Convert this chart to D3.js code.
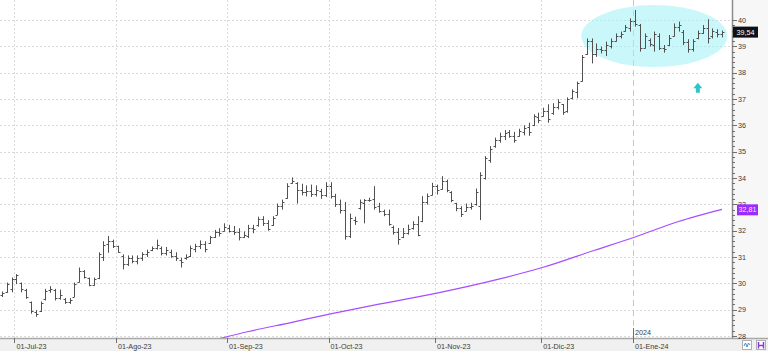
<!DOCTYPE html>
<html>
<head>
<meta charset="utf-8">
<script src="https://cdn.jsdelivr.net/npm/d3@7"></script>
<style>
html, body { margin: 0; padding: 0; background: #fff; }
svg { display: block; font-family: "Liberation Sans", Arial, sans-serif; }
</style>
</head>
<body>
<svg id="chart"></svg>
<script>
const WIDTH = 768;
const HEIGHT = 351;
const PLOT_RIGHT = 732;
const PLOT_BOTTOM = 338;

// trading calendar (Spanish market)
const FIRST_DAY = "2023-06-28";
const LAST_DAY = "2024-01-26";
const HOLIDAYS = ["2023-12-25", "2023-12-26", "2024-01-01"];
const MONTH_LABELS = ["01-Jul-23", "01-Ago-23", "01-Sep-23", "01-Oct-23", "01-Nov-23", "01-Dic-23", "01-Ene-24"];
const YEAR_LABEL = "2024";

const PRICE_TICKS = [28, 29, 30, 31, 32, 33, 34, 35, 36, 37, 38, 39, 40];

// daily OHLC
const opens = [
	29.55, 29.66, 29.80, 30.15, 30.00, 29.75, 29.30, 28.90, 28.95, 29.40,
	29.75, 29.75, 29.45, 29.40, 29.30, 29.50, 30.05, 30.45, 30.20, 29.95,
	30.20, 31.00, 31.50, 31.60, 31.40, 31.05, 30.75, 30.95, 30.85, 30.95,
	31.10, 31.25, 31.35, 31.35, 31.15, 31.20, 31.05, 30.90, 30.95, 31.05,
	31.30, 31.40, 31.50, 31.55, 31.75, 31.95, 32.00, 32.10, 32.00, 31.95,
	31.75, 31.80, 32.10, 32.20, 32.45, 32.30, 32.20, 32.60, 32.95, 33.25,
	33.80, 33.80, 33.55, 33.45, 33.50, 33.40, 33.50, 33.35, 33.70, 33.30,
	33.00, 32.80, 31.80, 32.40, 32.85, 33.05, 33.15, 33.20, 32.95, 32.75,
	32.65, 32.15, 31.95, 31.75, 31.90, 32.10, 32.25, 32.35, 33.10, 33.35,
	33.70, 33.60, 33.90, 33.45, 33.05, 32.85, 32.75, 32.90, 33.00, 32.95,
	34.00, 34.70, 35.20, 35.45, 35.60, 35.75, 35.60, 35.60, 35.75, 35.95,
	36.00, 36.30, 36.35, 36.55, 36.45, 36.70, 36.80, 36.55, 37.05, 37.25,
	37.70, 38.70, 39.20, 38.70, 38.90, 38.85, 39.00, 39.20, 39.40, 39.60,
	39.70, 39.95, 39.80, 38.95, 39.25, 39.05, 39.40, 38.95, 39.05, 39.40,
	39.75, 39.55, 39.15, 38.90, 39.30, 39.50, 39.70, 39.40, 39.55, 39.45
];
const highs = [
	29.69, 30.03, 30.22, 30.35, 30.03, 29.79, 29.31, 28.98, 29.31, 29.79,
	29.89, 29.79, 29.76, 29.44, 29.44, 30.03, 30.60, 30.50, 30.22, 30.22,
	31.18, 31.60, 31.80, 31.66, 31.43, 31.10, 31.06, 31.06, 31.06, 31.18,
	31.28, 31.40, 31.66, 31.40, 31.38, 31.28, 31.18, 30.97, 31.10, 31.43,
	31.50, 31.63, 31.60, 31.80, 32.03, 32.09, 32.28, 32.22, 32.18, 32.09,
	31.97, 32.22, 32.22, 32.53, 32.55, 32.40, 32.55, 33.03, 33.18, 33.80,
	34.02, 33.84, 33.78, 33.72, 33.75, 33.72, 33.59, 33.84, 33.84, 33.40,
	33.18, 33.09, 32.65, 32.53, 33.18, 33.20, 33.25, 33.69, 33.06, 32.80,
	32.80, 32.19, 32.10, 32.10, 32.23, 32.36, 32.55, 33.31, 33.41, 33.82,
	33.75, 34.07, 33.94, 33.50, 33.06, 32.93, 33.03, 33.06, 33.60, 34.22,
	34.83, 35.21, 35.53, 35.72, 35.82, 35.82, 35.75, 35.87, 36.00, 36.10,
	36.42, 36.48, 36.67, 36.80, 36.84, 36.99, 36.81, 37.06, 37.37, 37.66,
	38.67, 39.30, 39.30, 39.11, 38.99, 39.18, 39.30, 39.49, 39.56, 39.81,
	40.06, 40.38, 39.85, 39.49, 39.30, 39.56, 39.49, 39.05, 39.43, 39.87,
	39.94, 39.62, 39.27, 39.27, 39.60, 39.81, 40.03, 39.68, 39.65, 39.60
];
const lows = [
	29.48, 29.64, 29.66, 29.97, 29.66, 29.41, 28.85, 28.73, 28.91, 29.35,
	29.64, 29.35, 29.38, 29.22, 29.22, 29.48, 30.03, 30.18, 29.89, 29.91,
	30.16, 30.85, 31.16, 31.34, 31.16, 30.53, 30.66, 30.76, 30.72, 30.85,
	31.00, 31.22, 31.28, 31.06, 31.06, 30.97, 30.85, 30.60, 30.90, 31.00,
	31.18, 31.30, 31.18, 31.50, 31.72, 31.78, 31.97, 31.93, 31.84, 31.63,
	31.72, 31.72, 31.90, 32.15, 32.18, 32.00, 32.18, 32.59, 32.80, 33.21,
	33.78, 33.03, 33.34, 33.30, 33.28, 33.30, 33.21, 33.28, 33.22, 32.90,
	32.65, 31.66, 31.72, 32.22, 32.80, 32.28, 33.10, 32.80, 32.68, 32.55,
	32.19, 31.85, 31.47, 31.72, 31.85, 32.04, 31.79, 32.32, 32.99, 33.34,
	33.37, 33.56, 33.46, 33.08, 32.74, 32.52, 32.74, 32.80, 32.95, 32.40,
	33.94, 34.58, 35.15, 35.34, 35.44, 35.53, 35.34, 35.57, 35.62, 35.60,
	35.97, 36.08, 36.33, 36.10, 36.40, 36.60, 36.40, 36.48, 36.99, 37.03,
	37.66, 38.67, 38.35, 38.60, 38.73, 38.63, 38.92, 39.18, 39.30, 39.56,
	39.56, 39.75, 38.80, 38.92, 38.99, 38.80, 38.86, 38.76, 39.01, 39.37,
	39.56, 39.05, 38.76, 38.80, 39.27, 39.47, 39.11, 39.30, 39.34, 39.34
];
const closes = [
	29.62, 29.98, 30.15, 30.30, 29.80, 29.50, 28.95, 28.85, 29.25, 29.70,
	29.80, 29.45, 29.55, 29.30, 29.35, 29.98, 30.45, 30.25, 29.95, 30.15,
	31.10, 31.45, 31.60, 31.40, 31.20, 30.75, 30.95, 30.85, 30.95, 31.10,
	31.20, 31.35, 31.45, 31.15, 31.25, 31.05, 30.95, 30.80, 31.00, 31.35,
	31.40, 31.50, 31.30, 31.75, 31.95, 31.90, 32.15, 32.00, 31.95, 31.75,
	31.85, 32.10, 32.05, 32.45, 32.30, 32.05, 32.50, 32.95, 33.10, 33.70,
	33.90, 33.55, 33.45, 33.50, 33.40, 33.55, 33.35, 33.70, 33.30, 33.00,
	32.80, 31.80, 32.50, 32.35, 33.10, 33.15, 33.15, 32.90, 32.75, 32.65,
	32.25, 31.95, 31.70, 31.90, 32.05, 32.25, 31.85, 33.10, 33.30, 33.70,
	33.55, 33.90, 33.55, 33.15, 32.85, 32.65, 32.90, 32.95, 33.45, 34.10,
	34.75, 35.10, 35.45, 35.60, 35.70, 35.60, 35.45, 35.80, 35.90, 35.75,
	36.35, 36.20, 36.55, 36.25, 36.70, 36.90, 36.50, 37.00, 37.30, 37.60,
	38.60, 39.20, 38.70, 38.90, 38.85, 39.05, 39.20, 39.40, 39.45, 39.75,
	39.95, 39.85, 38.95, 39.40, 39.10, 39.45, 38.95, 38.90, 39.30, 39.75,
	39.80, 39.15, 38.90, 39.20, 39.50, 39.70, 39.30, 39.60, 39.45, 39.54
];

// moving average (purple), sampled at these bar positions
const maBarIndex = [45, 51, 60, 68, 78, 90, 103, 112, 122, 131, 140, 149];
const maValues = [27.90, 28.17, 28.52, 28.84, 29.21, 29.63, 30.17, 30.61, 31.22, 31.76, 32.35, 32.81];

// annotations
const ellipseBarIndex = 135;
const ellipsePrice = 39.39;
const arrowBarIndex = 144;
const arrowPrice = 37.62;

const parseDay = d3.timeParse("%Y-%m-%d");
const formatDay = d3.timeFormat("%Y-%m-%d");
const formatPrice = v => d3.format(".2f")(v).replace(".", ",");

const days = d3.timeDay
	.range(parseDay(FIRST_DAY), d3.timeDay.offset(parseDay(LAST_DAY), 1))
	.filter(d => d.getDay() > 0 && d.getDay() < 6 && !HOLIDAYS.includes(formatDay(d)))
	.map(formatDay);

const bars = days.map((day, i) => ({
	day,
	open: opens[i],
	high: highs[i],
	low: lows[i],
	close: closes[i],
}));

const monthStarts = days.filter((d, i) => i === 0 || d.slice(0, 7) !== days[i - 1].slice(0, 7)).slice(1);
const yearStart = days.find(d => d.startsWith("2024"));

const x = d3.scalePoint().domain(days).range([2, 722]);
const y = d3.scaleLinear([28, 40], [336, 20]);
const px = v => Math.round(v) + 0.5;

const svg = d3.select("#chart").attr("width", WIDTH).attr("height", HEIGHT);

svg.append("defs").append("clipPath").attr("id", "plot-clip")
	.append("rect").attr("x", 0).attr("y", 0).attr("width", PLOT_RIGHT).attr("height", PLOT_BOTTOM);

// right & bottom panels
svg.append("rect").attr("x", PLOT_RIGHT).attr("y", 0).attr("width", WIDTH - PLOT_RIGHT).attr("height", HEIGHT).attr("fill", "#f7f7f7");
svg.append("rect").attr("x", 0).attr("y", PLOT_BOTTOM).attr("width", WIDTH).attr("height", HEIGHT - PLOT_BOTTOM).attr("fill", "#f0f0f0");

const plot = svg.append("g").attr("clip-path", "url(#plot-clip)");

// grid
plot.selectAll(".hgrid").data(PRICE_TICKS).join("line")
	.attr("x1", 0).attr("x2", PLOT_RIGHT)
	.attr("y1", d => px(y(d))).attr("y2", d => px(y(d)))
	.attr("stroke", "#dadada").attr("stroke-dasharray", "2,2");

plot.selectAll(".vgrid").data(monthStarts.filter(d => d !== yearStart)).join("line")
	.attr("x1", d => px(x(d) - 2)).attr("x2", d => px(x(d) - 2))
	.attr("y1", 0).attr("y2", PLOT_BOTTOM)
	.attr("stroke", "#dadada").attr("stroke-dasharray", "2,2");

plot.append("line")
	.attr("x1", px(x(yearStart) - 2)).attr("x2", px(x(yearStart) - 2))
	.attr("y1", 0).attr("y2", PLOT_BOTTOM)
	.attr("stroke", "#c8c8c8").attr("stroke-dasharray", "6,4");

// highlight ellipse
plot.append("ellipse")
	.attr("cx", x(days[ellipseBarIndex]))
	.attr("cy", y(ellipsePrice))
	.attr("rx", 73).attr("ry", 31)
	.attr("fill", "#9ef0f5").attr("fill-opacity", 0.55);

// OHLC bars
const barG = plot.selectAll(".bar").data(bars).join("g").attr("class", "bar")
	.attr("stroke", "#505050").attr("stroke-width", 1);
barG.append("line")
	.attr("x1", d => px(x(d.day))).attr("x2", d => px(x(d.day)))
	.attr("y1", d => y(d.high)).attr("y2", d => y(d.low));
barG.append("line")
	.attr("x1", d => px(x(d.day)) - 2).attr("x2", d => px(x(d.day)))
	.attr("y1", d => px(y(d.open))).attr("y2", d => px(y(d.open)));
barG.append("line")
	.attr("x1", d => px(x(d.day))).attr("x2", d => px(x(d.day)) + 2)
	.attr("y1", d => px(y(d.close))).attr("y2", d => px(y(d.close)));

// moving average
const maLine = d3.line()
	.x(d => x(days[d[0]]))
	.y(d => y(d[1]))
	.curve(d3.curveMonotoneX);
plot.append("path")
	.attr("d", maLine(d3.zip(maBarIndex, maValues)))
	.attr("fill", "none")
	.attr("stroke", "#a64dff")
	.attr("stroke-width", 1.2);

// arrow
const ax = x(days[arrowBarIndex]);
const ay = y(arrowPrice);
plot.append("path")
	.attr("d", `M${ax},${ay} L${ax + 4.5},${ay + 5.5} L${ax + 2},${ay + 5.5} L${ax + 2},${ay + 10} L${ax - 2},${ay + 10} L${ax - 2},${ay + 5.5} L${ax - 4.5},${ay + 5.5} Z`)
	.attr("fill", "#2fc4c8");

// bottom axis
svg.append("line")
	.attr("x1", 0).attr("x2", WIDTH).attr("y1", PLOT_BOTTOM + 0.5).attr("y2", PLOT_BOTTOM + 0.5)
	.attr("stroke", "#a8a8a8").attr("stroke-width", 1.5);

svg.selectAll(".xtick").data(monthStarts).join("line")
	.attr("x1", d => px(x(d) - 2)).attr("x2", d => px(x(d) - 2))
	.attr("y1", PLOT_BOTTOM).attr("y2", PLOT_BOTTOM + 5)
	.attr("stroke", "#707070");

svg.selectAll(".xlabel").data(monthStarts).join("text")
	.attr("x", d => x(d))
	.attr("y", 349)
	.attr("font-size", 7.2)
	.attr("fill", "#3a3a3a")
	.text((d, i) => MONTH_LABELS[i]);

svg.append("line")
	.attr("x1", px(x(yearStart) - 2)).attr("x2", px(x(yearStart) - 2))
	.attr("y1", 328).attr("y2", PLOT_BOTTOM + 4)
	.attr("stroke", "#707070");
svg.append("text")
	.attr("x", x(yearStart))
	.attr("y", 335)
	.attr("font-size", 7.2)
	.attr("fill", "#3a3a3a")
	.text(YEAR_LABEL);

// right axis
svg.append("line")
	.attr("x1", PLOT_RIGHT + 0.5).attr("x2", PLOT_RIGHT + 0.5).attr("y1", 0).attr("y2", PLOT_BOTTOM)
	.attr("stroke", "#8c8c8c").attr("stroke-width", 1.5);

const minorTicks = y.ticks(60).filter(v => v >= 28 && v <= 40);
svg.selectAll(".yminor").data(minorTicks).join("line")
	.attr("x1", PLOT_RIGHT).attr("x2", d => PRICE_TICKS.includes(d) ? PLOT_RIGHT + 5 : PLOT_RIGHT + 3)
	.attr("y1", d => px(y(d))).attr("y2", d => px(y(d)))
	.attr("stroke", "#707070");

// label hidden behind the moving-average tag is drawn lower in the stack
svg.selectAll(".ylabel").data(PRICE_TICKS).join("text")
	.attr("x", PLOT_RIGHT + 6)
	.attr("y", d => y(d) + 2.6)
	.attr("font-size", 7.2)
	.attr("fill", "#3a3a3a")
	.text(d => d);

// last price tags
const lastClose = closes[closes.length - 1];
const lastMa = maValues[maValues.length - 1];

svg.append("rect")
	.attr("x", PLOT_RIGHT + 1).attr("y", y(lastClose) - 5.5)
	.attr("width", 25).attr("height", 11)
	.attr("fill", "#111");
svg.append("text")
	.attr("x", PLOT_RIGHT + 13.5).attr("y", y(lastClose) + 2.6)
	.attr("text-anchor", "middle")
	.attr("font-size", 7.2).attr("fill", "#fff")
	.text(formatPrice(lastClose));

svg.append("rect")
	.attr("x", PLOT_RIGHT + 5).attr("y", y(lastMa) - 5)
	.attr("width", 21).attr("height", 11)
	.attr("fill", "#9b2bff");
svg.append("text")
	.attr("x", PLOT_RIGHT + 15.5).attr("y", y(lastMa) + 3.1)
	.attr("text-anchor", "middle")
	.attr("font-size", 7.2).attr("fill", "#f2e8ff")
	.text(formatPrice(lastMa));

// toolbar icons, bottom right
svg.append("rect").attr("x", 742.5).attr("y", 340.5).attr("width", 9).attr("height", 9)
	.attr("fill", "#fff").attr("stroke", "#b0b0b0");
svg.append("path").attr("d", "M744,346 L745.5,343 L747,347 L748.5,343 L750,345")
	.attr("fill", "none").attr("stroke", "#3a8de0").attr("stroke-width", 1);
svg.append("rect").attr("x", 756.5).attr("y", 340.5).attr("width", 9).attr("height", 9)
	.attr("fill", "#fff").attr("stroke", "#b0b0b0");
svg.append("path").attr("d", "M758.5,342 V348.5 M763.5,342 V348.5 M758.5,345.5 H763.5")
	.attr("fill", "none").attr("stroke", "#8a3ad8").attr("stroke-width", 1.5);
</script>
</body>
</html>
